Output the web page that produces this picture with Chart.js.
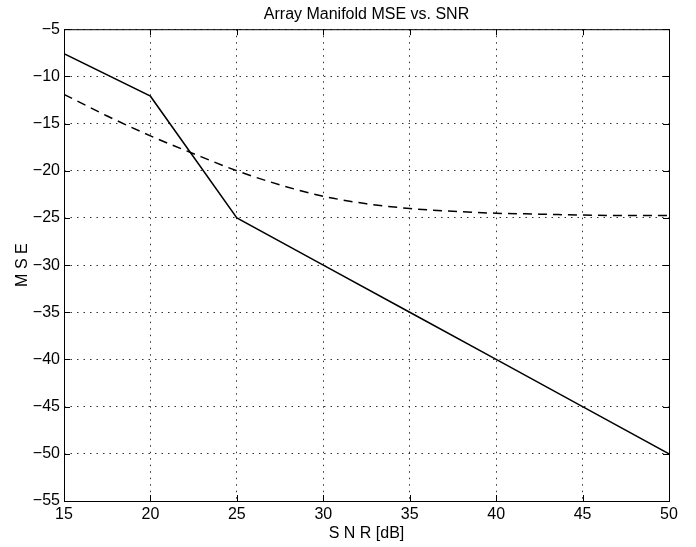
<!DOCTYPE html>
<html>
<head>
<meta charset="utf-8">
<script src="https://cdn.jsdelivr.net/npm/chart.js@4/dist/chart.umd.min.js"></script>
<style>
  html, body { margin: 0; padding: 0; background: #fff; }
  #wrap { width: 696px; height: 547px; }
</style>
</head>
<body>
<div id="wrap"><canvas id="chartMse"></canvas></div>
<script>
// Datos
const snrSolido = [15, 20, 25, 30, 35, 40, 45, 50];
const mseSolido = [-7.6, -12.1, -25.0, -30.0, -35.0, -40.0, -45.0, -50.0];

const snrDiscontinuo = [15, 17.5, 20, 22.5, 25, 27.5, 30, 32.5, 35, 37.5, 40, 42.5, 45, 47.5, 50];
const mseDiscontinuo = [-11.9, -14.2, -16.3, -18.2, -20.0, -21.5, -22.7, -23.5, -24.0, -24.3, -24.5, -24.6, -24.7, -24.75, -24.75];

const ticksX = [15, 20, 25, 30, 35, 40, 45, 50];
const ticksY = [-5, -10, -15, -20, -25, -30, -35, -40, -45, -50, -55];

const fuente = 'Liberation Sans, Arial, Helvetica, sans-serif';
const menos = v => String(v).replace('-', '\u2212');

// Marco y marcas interiores estilo matlab
const marcoPlugin = {
  id: 'marco',
  afterDatasetsDraw(chart) {
    const { ctx, chartArea: a, scales } = chart;
    ctx.save();
    ctx.strokeStyle = '#000';
    ctx.lineWidth = 1;
    ctx.setLineDash([]);
    ctx.strokeRect(a.left + 0.5, a.top + 0.5, a.right - a.left, a.bottom - a.top);
    ctx.beginPath();
    ticksX.forEach(v => {
      const px = Math.round(scales.x.getPixelForValue(v)) + 0.5;
      ctx.moveTo(px, a.bottom); ctx.lineTo(px, a.bottom - 6);
      ctx.moveTo(px, a.top); ctx.lineTo(px, a.top + 6);
    });
    ticksY.forEach(v => {
      const py = Math.round(scales.y.getPixelForValue(v)) + 0.5;
      ctx.moveTo(a.left, py); ctx.lineTo(a.left + 6, py);
      ctx.moveTo(a.right, py); ctx.lineTo(a.right - 6, py);
    });
    ctx.stroke();
    ctx.restore();
  }
};

new Chart(document.getElementById('chartMse'), {
  type: 'line',
  data: {
    datasets: [
      {
        data: snrSolido.map((x, i) => ({ x: x, y: mseSolido[i] })),
        borderColor: '#000',
        borderWidth: 1.5,
        pointRadius: 0,
        tension: 0
      },
      {
        data: snrDiscontinuo.map((x, i) => ({ x: x, y: mseDiscontinuo[i] })),
        borderColor: '#000',
        borderWidth: 1.5,
        borderDash: [9, 6],
        pointRadius: 0,
        cubicInterpolationMode: 'monotone'
      }
    ]
  },
  options: {
    responsive: true,
    maintainAspectRatio: false,
    animation: false,
    layout: { padding: { left: 0, right: 27, top: 0, bottom: 0 } },
    plugins: {
      legend: { display: false },
      tooltip: { enabled: false },
      title: {
        display: true,
        fullSize: false,
        text: 'Array Manifold MSE vs. SNR',
        color: '#000',
        font: { family: fuente, size: 16, weight: 'normal' },
        padding: { top: 5, bottom: 5 }
      }
    },
    scales: {
      x: {
        type: 'linear',
        min: 15,
        max: 50,
        afterBuildTicks: s => { s.ticks = ticksX.map(v => ({ value: v })); },
        afterFit: s => { s.height = 46; },
        ticks: {
          color: '#000',
          padding: 4,
          maxRotation: 0,
          font: { family: fuente, size: 16 },
          callback: v => menos(v)
        },
        grid: { color: '#333', lineWidth: 1, drawTicks: false },
        border: { display: false, dash: [1.5, 5] },
        title: {
          display: true,
          text: 'S N R [dB]',
          color: '#000',
          font: { family: fuente, size: 16 },
          padding: { top: 0, bottom: 4 }
        }
      },
      y: {
        type: 'linear',
        min: -55,
        max: -5,
        afterBuildTicks: s => { s.ticks = ticksY.map(v => ({ value: v })); },
        afterFit: s => { s.width = 64; },
        ticks: {
          color: '#000',
          padding: 4,
          font: { family: fuente, size: 16 },
          callback: v => menos(v)
        },
        grid: { color: '#333', lineWidth: 1, drawTicks: false },
        border: { display: false, dash: [1.5, 5] },
        title: {
          display: true,
          text: 'M S E',
          color: '#000',
          font: { family: fuente, size: 16 },
          padding: { top: 13, bottom: 0 }
        }
      }
    }
  },
  plugins: [marcoPlugin]
});
</script>
</body>
</html>
